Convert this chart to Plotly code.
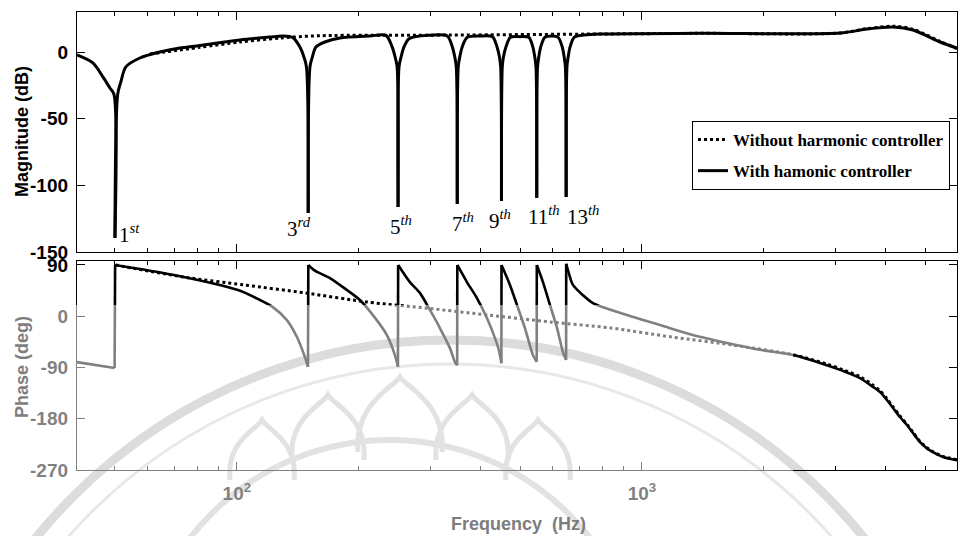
import math
import plotly.graph_objects as go

# ---------------- data ----------------
harm_freq = [50, 150, 250, 350, 450, 550, 650]
harm_labels = ["1<sup><i>st</i></sup>", "3<sup><i>rd</i></sup>", "5<sup><i>th</i></sup>",
               "7<sup><i>th</i></sup>", "9<sup><i>th</i></sup>", "11<sup><i>th</i></sup>",
               "13<sup><i>th</i></sup>"]
harm_label_db = [-136.4, -131.9, -130.4, -128.1, -125.9, -122.9, -122.9]

mag_with_f = [40.3, 44.1, 46.7, 48.6, 49.7, 50.0, 50.8, 51.7, 53.2, 57.6, 64.5, 72.3, 81.0,
              101.7, 120.6, 130.0,
              137.5, 143.1, 146.4, 148.5, 150.0, 151.5, 153.6, 156.7, 164.9, 179.6, 213.0,
              233.5, 241.6, 245.8, 248.6, 250.0, 251.4, 254.3, 258.7, 266.1, 296.2,
              330.7, 340.2, 345.1, 348.0, 350.0, 352.0, 355.0, 360.1, 370.5, 398.1,
              427.6, 438.6, 444.9, 447.9, 450.0, 452.1, 455.1, 461.7, 473.6, 500.0,
              525.6, 537.6, 543.8, 547.5, 550.0, 552.5, 556.3, 562.7, 575.6, 600.0,
              621.1, 635.4, 642.7, 647.0, 650.0, 653.0, 657.4, 665.0, 680.2, 720.1,
              787.6, 1391, 3083, 3593, 4167, 4669, 5443, 5995]
mag_with_db = [-2.2, -8.2, -18.7, -27.0, -31.5, -139.4, -31.5, -22.5, -11.2, -4.5, 0.0, 3.0, 4.9,
               9.0, 11.2, 12.0,
               10.8, 3.7, -3.7, -11.2, -120.7, -11.2, -3.7, 3.7, 7.5, 10.5, 12.0,
               12.5, 4.0, -3.7, -11.0, -116.2, -11.0, -3.7, 4.0, 10.0, 12.5,
               12.0, 4.0, -3.7, -11.0, -114.0, -11.0, -3.7, 4.0, 11.0, 12.0,
               11.5, 4.0, -3.7, -11.0, -111.7, -11.0, -3.7, 4.0, 11.0, 11.5,
               11.0, 4.0, -3.7, -11.0, -109.4, -11.0, -3.7, 4.0, 11.0, 12.0,
               11.0, 4.0, -3.7, -11.0, -108.7, -11.0, -3.7, 4.0, 11.0, 12.7,
               13.5, 14.0, 14.2, 17.2, 18.7, 16.5, 7.5, 3.0]

mag_without_f = [61.0, 81.0, 101.7, 127.7, 160.3, 335.7, 787.6, 1391, 3083, 3593, 4214, 4669, 5443, 5995]
mag_without_db = [-1.5, 3.5, 7.5, 10.5, 12.2, 12.7, 13.5, 14.0, 14.2, 17.5, 19.3, 17.0, 8.0, 2.5]

ph_with_f = [40.3, 49.9, 50.05, 69.9, 100.6, 114.0, 122.7, 132.9, 140.7, 147.2, 149.8,
             150.1, 155.8, 169.7, 186.9, 201.2, 216.7, 234.6, 245.5, 249.8,
             250.1, 267.4, 283.0, 299.6, 317.1, 335.7, 345.4, 349.8,
             350.1, 369.8, 391.4, 414.3, 433.5, 443.6, 449.8,
             450.1, 472.2, 491.4, 514.2, 538.2, 549.8,
             550.1, 569.7, 592.7, 616.8, 638.2, 649.8,
             650.1, 660.4, 675.5, 715.0, 756.8, 918.3, 1108, 1336, 1622, 1956, 2360,
             2862, 3135, 3453, 3719, 3870, 4026, 4167, 4335, 4512, 4669, 4859, 5053,
             5230, 5537, 5995]
ph_with_deg = [-80.5, -91.0, 90.0, 72.4, 46.0, 28.5, 16.0, -6.7, -36.5, -71.7, -89.0,
               90.0, 80.0, 67.0, 46.0, 28.5, 2.0, -33.0, -68.0, -88.7,
               90.0, 60.0, 41.0, 11.0, -20.7, -56.0, -80.5, -86.0,
               90.0, 60.0, 32.0, -3.0, -38.0, -60.0, -82.6,
               90.0, 55.0, 20.0, -20.7, -68.0, -80.0,
               90.0, 60.0, 20.0, -20.0, -63.0, -77.0,
               92.0, 75.0, 55.0, 37.0, 23.0, 2.0, -15.5, -33.0, -47.0, -59.0, -68.0,
               -86.0, -96.0, -108.6, -124.0, -133.0, -147.0, -161.0, -177.0, -191.0, -205.0,
               -221.0, -232.0, -238.6, -247.0, -252.7]

ph_without_f = [50.2, 73.6, 104.1, 147.2, 209.4, 296.2, 419.0, 592.7, 838.5, 1186, 1678, 2373,
                2862, 3135, 3453, 3719, 3870, 4026, 4167, 4335, 4512, 4669, 4859, 5053,
                5230, 5537, 5995]
ph_without_deg = [90.0, 69.0, 55.0, 41.0, 25.0, 14.0, 2.0, -10.0, -20.7, -36.5, -50.6, -68.0,
                  -84.0, -94.0, -106.0, -121.0, -131.0, -145.0, -159.0, -175.0, -190.0,
                  -204.0, -220.0, -231.0, -238.0, -246.0, -252.0]

mag_ticks = [-150, -100, -50, 0]
phase_ticks = [-270, -180, -90, 0, 90]
freq_ticks = [100, 1000]
freq_ticktext = ["10<sup>2</sup>", "10<sup>3</sup>"]
minor_freq = [50, 60, 70, 80, 90, 200, 300, 400, 500, 600, 700, 800, 900,
              2000, 3000, 4000, 5000]

# ---------------- figure geometry ----------------
W, H = 958, 536
L, R, T, B = 77, 1, 12, 66
pw, ph = W - L - R, H - T - B


def py(y):   # pixel row -> paper y
    return (H - B - y) / ph


def px(x):   # pixel column -> paper x
    return (x - L) / pw


sans = "Liberation Sans, Arial, sans-serif"
serif = "Liberation Serif, DejaVu Serif, serif"
gray = "#7d7d7d"

fig = go.Figure()


def add_smooth(fx, fy, line, axes, name=None, legend=False, group=None,
               jump=False, notch=False):
    """Draw a series as smooth spline pieces, keeping notch bottoms and
    phase jumps sharp."""
    xa, ya = axes
    pieces, cur, jumps_x, jumps_y = [], [0], [], []
    for i in range(len(fx) - 1):
        if jump and fx[i + 1] / fx[i] < 1.01 and abs(fy[i + 1] - fy[i]) > 100:
            pieces.append(cur)
            cur = [i + 1]
            jumps_x += [fx[i], fx[i + 1], None]
            jumps_y += [fy[i], fy[i + 1], None]
        elif notch and fy[i] < -100:
            pieces.append(cur)
            cur = [i, i + 1]
        else:
            cur.append(i + 1)
    pieces.append(cur)
    first = True
    for p in pieces:
        fig.add_trace(go.Scatter(
            x=[fx[k] for k in p], y=[fy[k] for k in p], mode="lines",
            line=dict(**line, shape="spline", smoothing=0.8),
            name=name, legendgroup=group, showlegend=(legend and first),
            xaxis=xa, yaxis=ya, hoverinfo="skip"))
        first = False
    if jumps_x:
        fig.add_trace(go.Scatter(x=jumps_x, y=jumps_y, mode="lines", showlegend=False,
                                 line=dict(color=line["color"], width=line["width"]),
                                 xaxis=xa, yaxis=ya, hoverinfo="skip"))


dot_line = dict(color="black", width=3, dash="dot")
add_smooth(mag_without_f, mag_without_db, dot_line, ("x", "y"),
           name="Without harmonic controller", legend=True, group="a")
add_smooth(mag_with_f, mag_with_db, dict(color="black", width=3), ("x", "y"),
           name="With hamonic controller", legend=True, group="b", notch=True)
add_smooth(ph_without_f, ph_without_deg, dot_line, ("x2", "y2"), group="a")
add_smooth(ph_with_f, ph_with_deg, dict(color="black", width=2.6), ("x2", "y2"),
           group="b", jump=True)

xr = [math.log10(40.3), math.log10(5995)]
common_x = dict(type="log", range=xr, showline=True, linecolor="black", linewidth=1.3,
                mirror="ticks", ticks="inside", ticklen=8, tickcolor="black",
                tickvals=freq_ticks, showgrid=False, zeroline=False,
                minor=dict(ticks="inside", ticklen=4, tickcolor="black", tickvals=minor_freq))
tick_font = dict(family=sans, size=19, color="black", weight="bold")
common_y = dict(showline=True, linecolor="black", linewidth=1.3, mirror="ticks",
                ticks="inside", ticklen=8, tickcolor="black", showgrid=False,
                zeroline=False, tickfont=tick_font, ticklabelstandoff=4)

fig.update_layout(
    width=W, height=H, margin=dict(l=L, r=R, t=T, b=B),
    paper_bgcolor="white", plot_bgcolor="rgba(0,0,0,0)",
    xaxis=dict(**common_x, anchor="y", domain=[0, 1], showticklabels=False),
    xaxis2=dict(**common_x, anchor="y2", domain=[0, 1], matches="x",
                ticktext=freq_ticktext, ticklabelstandoff=6, tickfont=tick_font),
    yaxis=dict(**common_y, anchor="x", domain=[py(252), 1], range=[-150, 30],
               tickvals=mag_ticks, ticktext=[str(v) for v in mag_ticks]),
    yaxis2=dict(**common_y, anchor="x2", domain=[0, py(261)], range=[-270, 97],
                tickvals=phase_ticks, ticktext=[str(v) for v in phase_ticks]),
    showlegend=True,
    legend=dict(x=px(692), y=py(121), xanchor="left", yanchor="top",
                bgcolor="white", bordercolor="black", borderwidth=1,
                font=dict(family=serif, size=17, color="black", weight="bold"),
                traceorder="grouped", tracegroupgap=6, itemwidth=30),
)

title_font = dict(family=sans, size=18, color="black", weight="bold")
annotations = [
    dict(text="Magnitude (dB)", xref="paper", yref="paper", x=0, xshift=-55, y=py(132),
         textangle=-90, showarrow=False, xanchor="center", yanchor="middle",
         font=title_font),
    dict(text="Phase (deg)", xref="paper", yref="paper", x=0, xshift=-55, y=py(367),
         textangle=-90, showarrow=False, xanchor="center", yanchor="middle",
         font=dict(title_font, color=gray)),
    dict(text="Frequency\u00a0 (Hz)", xref="paper", yref="paper", x=px(518), y=py(524),
         showarrow=False, xanchor="center", yanchor="middle",
         font=dict(title_font, color=gray)),
]
label_shift = [15, -9, 3, 6, -1, 7, 17]
for f, lab, ydb, sh in zip(harm_freq, harm_labels, harm_label_db, label_shift):
    annotations.append(dict(text=lab, xref="x", yref="y", x=math.log10(f), y=ydb,
                            xshift=sh, showarrow=False, xanchor="center", yanchor="middle",
                            font=dict(family=serif, size=21, color="black")))
fig.update_layout(annotations=annotations)


# faint watermark (ring + lotus petals) and the grey, scan-faded lower-left region
def petal(cx, apex, hw, h):
    pts = [(cx - hw, apex + h), (cx - hw - 4, apex + h * 0.35), (cx - 6, apex + 10), (cx, apex),
           (cx + 6, apex + 10), (cx + hw + 4, apex + h * 0.35), (cx + hw, apex + h)]
    p = [(px(a), py(b)) for a, b in pts]
    return ("M {:.4f},{:.4f} C {:.4f},{:.4f} {:.4f},{:.4f} {:.4f},{:.4f} "
            "C {:.4f},{:.4f} {:.4f},{:.4f} {:.4f},{:.4f}").format(*[v for q in p for v in q])


wm = "#c4c4c4"
shapes = [
    dict(type="circle", xref="paper", yref="paper", layer="below",
         x0=px(450 - 532), x1=px(450 + 532), y0=py(872 + 532), y1=py(340),
         line=dict(color="#b8b8b8", width=9)),
    dict(type="circle", xref="paper", yref="paper", layer="below",
         x0=px(450 - 508), x1=px(450 + 508), y0=py(872 + 508), y1=py(364),
         line=dict(color="#d0d0d0", width=3)),
    dict(type="circle", xref="paper", yref="paper", layer="below",
         x0=px(390 - 253), x1=px(390 + 253), y0=py(693 + 253), y1=py(440),
         line=dict(color=wm, width=6)),
]
for cx, apex, hw, h in [(400, 377, 42, 75), (328, 395, 36, 65), (472, 395, 36, 65),
                        (262, 420, 32, 60), (538, 420, 32, 60)]:
    shapes.append(dict(type="path", xref="paper", yref="paper", layer="below",
                       path=petal(cx, apex, hw, h), line=dict(color=wm, width=5)))
# lighten the watermark outside the faded region so it keeps one tone
shapes.append(dict(type="rect", xref="paper", yref="paper", layer="below",
                   x0=px(793), x1=1.05, y0=-0.25, y1=py(305),
                   fillcolor="rgba(255,255,255,0.5)", line=dict(width=0)))
shapes.append(dict(type="rect", xref="paper", yref="paper", layer="above",
                   x0=-0.2, x1=px(793), y0=-0.25, y1=py(305),
                   fillcolor="rgba(255,255,255,0.5)", line=dict(width=0)))
fig.update_layout(shapes=shapes)

fig.write_html("out.html")
